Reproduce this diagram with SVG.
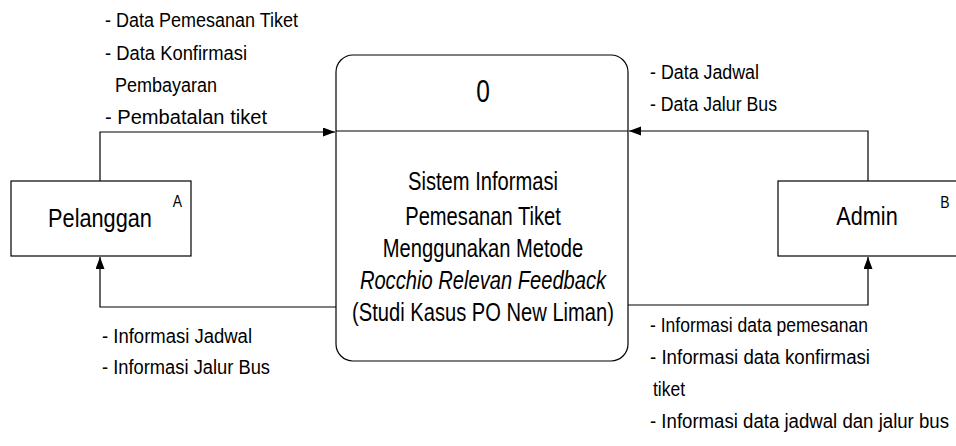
<svg xmlns="http://www.w3.org/2000/svg" width="956" height="446" viewBox="0 0 956 446">
  <style>
    .box { fill: #ffffff; stroke: #000000; stroke-width: 1.2; }
    .conn { fill: none; stroke: #000000; stroke-width: 1.2; }
    .lbl { font-family: "Liberation Sans", Arial, sans-serif; font-size: 20px; fill: #000000; }
    .big { font-family: "Liberation Sans", Arial, sans-serif; fill: #000000; text-anchor: middle; }
  </style>
  <defs>
    <marker id="arrow" markerUnits="userSpaceOnUse" markerWidth="13" markerHeight="10" refX="12" refY="4.5" orient="auto">
      <path d="M0,0 L12,4.5 L0,9 Z" fill="#000000"/>
    </marker>
  </defs>
  <rect width="956" height="446" fill="#ffffff"/>

  <g id="connectors">
    <path class="conn" d="M100,181 V132 H335" marker-end="url(#arrow)"/>
    <path class="conn" d="M336,307 H100 V257" marker-end="url(#arrow)"/>
    <path class="conn" d="M868,181 V131 H629" marker-end="url(#arrow)"/>
    <path class="conn" d="M628,305 H868 V257" marker-end="url(#arrow)"/>
  </g>

  <g id="process-0">
    <rect class="box" x="336" y="55" width="292" height="306" rx="17" ry="17"/>
    <line class="conn" x1="336" y1="131" x2="628" y2="131"/>
    <g transform="translate(483,0) scale(0.79,1)">
      <text class="big" x="0" y="102" font-size="31">0</text>
      <text class="big" x="0" y="190" font-size="25.5">Sistem Informasi</text>
      <text class="big" x="0" y="225" font-size="25.5">Pemesanan Tiket</text>
      <text class="big" x="0" y="257" font-size="25.5">Menggunakan Metode</text>
      <text class="big" x="0" y="289" font-size="25.5" font-style="italic">Rocchio Relevan Feedback</text>
      <text class="big" x="0" y="321" font-size="25.5">(Studi Kasus PO New Liman)</text>
    </g>
  </g>

  <g id="pelanggan">
    <rect class="box" x="11" y="181" width="180" height="75"/>
    <g transform="translate(100,0) scale(0.82,1)">
      <text class="big" x="0" y="227" font-size="26.5">Pelanggan</text>
    </g>
    <g transform="translate(177.5,0) scale(0.82,1)">
      <text class="big" x="0" y="207" font-size="17">A</text>
    </g>
  </g>

  <g id="admin">
    <rect class="box" x="778" y="181" width="190" height="75"/>
    <g transform="translate(867,0) scale(0.85,1)">
      <text class="big" x="0" y="225" font-size="25.5">Admin</text>
    </g>
    <g transform="translate(945,0) scale(0.82,1)">
      <text class="big" x="0" y="208" font-size="17">B</text>
    </g>
  </g>

  <g id="labels">
    <text class="lbl" x="105" y="27" textLength="193" lengthAdjust="spacingAndGlyphs">- Data Pemesanan Tiket</text>
    <text class="lbl" x="105" y="60" textLength="142" lengthAdjust="spacingAndGlyphs">- Data Konfirmasi</text>
    <text class="lbl" x="115" y="92" textLength="102" lengthAdjust="spacingAndGlyphs">Pembayaran</text>
    <text class="lbl" x="105" y="124" textLength="162" lengthAdjust="spacingAndGlyphs">- Pembatalan tiket</text>

    <text class="lbl" x="650" y="79" textLength="109" lengthAdjust="spacingAndGlyphs">- Data Jadwal</text>
    <text class="lbl" x="650" y="111" textLength="127" lengthAdjust="spacingAndGlyphs">- Data Jalur Bus</text>

    <text class="lbl" x="102" y="343" textLength="150" lengthAdjust="spacingAndGlyphs">- Informasi Jadwal</text>
    <text class="lbl" x="102" y="374" textLength="168" lengthAdjust="spacingAndGlyphs">- Informasi Jalur Bus</text>

    <text class="lbl" x="650" y="332" textLength="218" lengthAdjust="spacingAndGlyphs">- Informasi data pemesanan</text>
    <text class="lbl" x="650" y="364" textLength="220" lengthAdjust="spacingAndGlyphs">- Informasi data konfirmasi</text>
    <text class="lbl" x="653" y="396" textLength="32" lengthAdjust="spacingAndGlyphs">tiket</text>
    <text class="lbl" x="650" y="428" font-size="18.5" textLength="299" lengthAdjust="spacingAndGlyphs">- Informasi data jadwal dan jalur bus</text>
  </g>
</svg>
